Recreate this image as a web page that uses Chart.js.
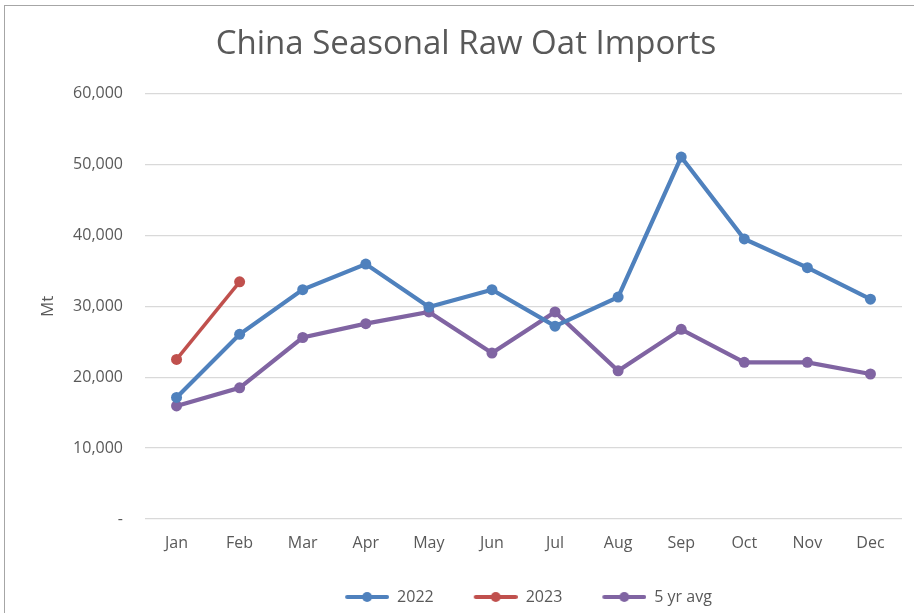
<!DOCTYPE html>
<html>
<head>
<meta charset="utf-8">
<script src="https://cdn.jsdelivr.net/npm/chart.js@4.4.0/dist/chart.umd.min.js"></script>
<style>
html, body { margin: 0; padding: 0; background: #fff; }
#wrap { position: relative; width: 914px; height: 613px; overflow: hidden; }
#frame { position: absolute; left: 4px; top: 5px; width: 920px; height: 620px;
  border-left: 1.5px solid #a6a6a6; border-top: 1.5px solid #a6a6a6; }
canvas { position: absolute; left: 0; top: 0; }
</style>
</head>
<body>
<div id="wrap">
  <div id="frame"></div>
  <canvas id="chart" width="914" height="613"></canvas>
</div>
<script>
// data
var months = ['Jan', 'Feb', 'Mar', 'Apr', 'May', 'Jun', 'Jul', 'Aug', 'Sep', 'Oct', 'Nov', 'Dec'];
var imports2022 = [17150, 26050, 32350, 35950, 29900, 32350, 27200, 31300, 51050, 39500, 35450, 31000];
var imports2023 = [22500, 33450];
var avg5yr = [15950, 18500, 25600, 27550, 29200, 23400, 29200, 20900, 26750, 22100, 22100, 20450];
var yMin = 0, yMax = 60000, yStep = 10000;

var textGrey = '#595959';
var blue = '#4F81BD', red = '#C0504D', purple = '#8064A2';

// legend marker: line with a dot in the middle (10px blank on the left for spacing)
function legendMarker(color, width) {
    var c = document.createElement('canvas');
    c.width = 54; c.height = 12;
    var g = c.getContext('2d');
    g.strokeStyle = color;
    g.lineWidth = width;
    g.lineCap = 'round';
    g.beginPath(); g.moveTo(12, 6); g.lineTo(52, 6); g.stroke();
    g.fillStyle = color;
    g.beginPath(); g.arc(32, 6, 5, 0, Math.PI * 2); g.fill();
    return c;
}
var markers = [legendMarker(blue, 4), legendMarker(red, 4), legendMarker(purple, 4)];

function lineSet(label, data, color, width) {
    return {
        label: label,
        data: data,
        borderColor: color,
        backgroundColor: color,
        borderWidth: width,
        pointRadius: 5.5,
        pointHoverRadius: 5.5,
        pointBorderWidth: 0,
        pointBackgroundColor: color,
        tension: 0
    };
}

var chart = new Chart(document.getElementById('chart'), {
    type: 'line',
    data: {
        labels: months,
        datasets: [
            lineSet('2022', imports2022, blue, 4.2),
            lineSet('2023', imports2023, red, 3.5),
            lineSet('5 yr avg', avg5yr, purple, 4.2)
        ]
    },
    options: {
        responsive: false,
        animation: false,
        layout: { padding: { left: 30, right: 12, top: 0, bottom: 0 } },
        plugins: {
            title: {
                display: true,
                text: 'China Seasonal Raw Oat Imports',
                color: textGrey,
                font: { family: '"Open Sans", sans-serif', size: 33, weight: 'normal' },
                padding: { top: 25, bottom: 29 }
            },
            legend: {
                position: 'bottom',
                fullSize: false,
                maxHeight: 54,
                labels: {
                    usePointStyle: true,
                    pointStyleWidth: 54,
                    color: textGrey,
                    font: { family: '"Open Sans", sans-serif', size: 16 },
                    padding: 30,
                    generateLabels: function (ch) {
                        var items = Chart.defaults.plugins.legend.labels.generateLabels(ch);
                        items.forEach(function (it, i) { it.pointStyle = markers[i]; });
                        return items;
                    }
                }
            },
            tooltip: { enabled: false }
        },
        scales: {
            x: {
                offset: true,
                grid: { display: false, drawTicks: false },
                border: { display: false },
                ticks: { color: textGrey, font: { family: '"Open Sans", sans-serif', size: 16 }, padding: 15 },
                afterFit: function (s) { s.height = 40; }
            },
            y: {
                min: yMin,
                max: yMax,
                grid: { color: '#d9d9d9', lineWidth: 1.3, drawTicks: false },
                border: { display: false },
                ticks: {
                    stepSize: yStep,
                    color: textGrey,
                    font: { family: '"Open Sans", sans-serif', size: 16 },
                    padding: 22,
                    callback: function (v) { return v === 0 ? '-' : v.toLocaleString('en-US'); }
                },
                title: {
                    display: true,
                    text: 'Mt',
                    color: textGrey,
                    font: { family: '"Open Sans", sans-serif', size: 17 },
                    padding: { top: 8, bottom: 0 }
                },
                afterFit: function (s) { s.width = 115; }
            }
        }
    }
});
</script>
</body>
</html>
